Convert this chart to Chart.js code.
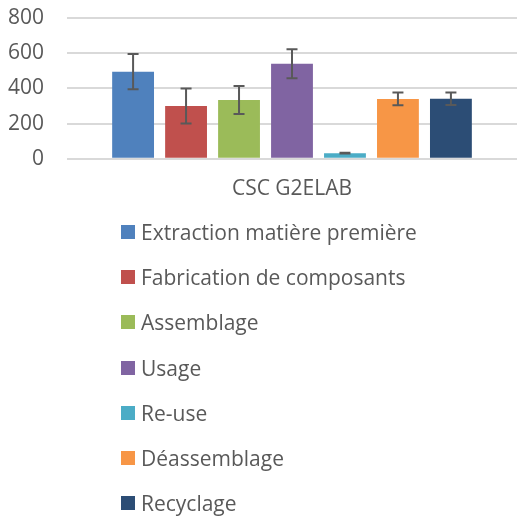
<!DOCTYPE html>
<html>
<head>
<meta charset="utf-8">
<script src="https://cdn.jsdelivr.net/npm/chart.js@4"></script>
<style>
  body { margin: 0; background: #fff; }
  #wrap { position: relative; width: 517px; height: 220px; }
  #legend { position: absolute; left: 121px; top: 209.5px; font-family: "Open Sans", sans-serif; font-size: 21px; color: #595959; }
  #legend div { height: 45.2px; display: flex; align-items: center; position: absolute; white-space: nowrap; }
  #legend span.box { display: inline-block; width: 14px; height: 14px; margin-right: 6px; }
</style>
</head>
<body>
<div id="wrap"><canvas id="myChart"></canvas></div>
<div id="legend"></div>
<script>
// category on the x-axis
var categories = ["CSC G2ELAB"];
// series names
var series = ["Extraction matière première", "Fabrication de composants", "Assemblage", "Usage", "Re-use", "Déassemblage", "Recyclage"];
// bar heights (one per series)
var values = [495, 300, 334, 540, 32, 340, 341];
// error bar half-lengths
var errors = [100, 100, 80, 82, 2, 36, 35];
var colors = ["#4f81bd", "#c0504d", "#9bbb59", "#8064a2", "#4bacc6", "#f79646", "#2c4d75"];
// y-axis ticks
var yTicks = [0, 200, 400, 600, 800];

var textColor = "#595959";

var datasets = series.map(function (name, i) {
  return {
    label: name,
    data: [values[i]],
    errors: [errors[i]],
    backgroundColor: colors[i],
    categoryPercentage: 0.824,
    barPercentage: 0.79
  };
});

// draws the error bars using the y scale
var errorBars = {
  id: 'errorBars',
  afterDatasetsDraw: function (chart) {
    var ctx = chart.ctx;
    var y = chart.scales.y;
    ctx.save();
    ctx.strokeStyle = "#595959";
    ctx.lineWidth = 2;
    chart.data.datasets.forEach(function (ds, i) {
      var meta = chart.getDatasetMeta(i);
      meta.data.forEach(function (bar, j) {
        var v = ds.data[j], e = ds.errors[j];
        var top = y.getPixelForValue(v + e);
        var bot = y.getPixelForValue(v - e);
        var cap = 5.5;
        ctx.beginPath();
        ctx.moveTo(bar.x, top); ctx.lineTo(bar.x, bot);
        ctx.moveTo(bar.x - cap, top); ctx.lineTo(bar.x + cap, top);
        ctx.moveTo(bar.x - cap, bot); ctx.lineTo(bar.x + cap, bot);
        ctx.stroke();
      });
    });
    ctx.restore();
  }
};

var ctx = document.getElementById("myChart");
var myChart = new Chart(ctx, {
  type: 'bar',
  data: { labels: categories, datasets: datasets },
  plugins: [errorBars],
  options: {
    responsive: true,
    maintainAspectRatio: false,
    animation: false,
    layout: { padding: { top: 18, right: 0, left: 0, bottom: 0 } },
    plugins: { legend: { display: false }, tooltip: { enabled: false } },
    scales: {
      x: {
        grid: { display: false, drawTicks: false },
        border: { display: false },
        ticks: { color: textColor, padding: 18, font: { family: "Open Sans", size: 21 } }
      },
      y: {
        min: 0, max: 800,
        afterFit: function (scale) { scale.width = 67; scale.paddingTop = 0; },
        afterBuildTicks: function (scale) { scale.ticks = yTicks.map(function (v) { return { value: v }; }); },
        grid: { color: "#d9d9d9", lineWidth: 2, drawTicks: false },
        border: { display: false },
        ticks: { color: textColor, padding: 23, font: { family: "Open Sans", size: 21 } }
      }
    }
  }
});

// legend below the chart, one entry per line
var legend = document.getElementById("legend");
series.forEach(function (name, i) {
  var row = document.createElement("div");
  row.style.top = (i * 45.2) + "px";
  row.innerHTML = '<span class="box" style="background:' + colors[i] + '"></span>' + name;
  legend.appendChild(row);
});
</script>
</body>
</html>
